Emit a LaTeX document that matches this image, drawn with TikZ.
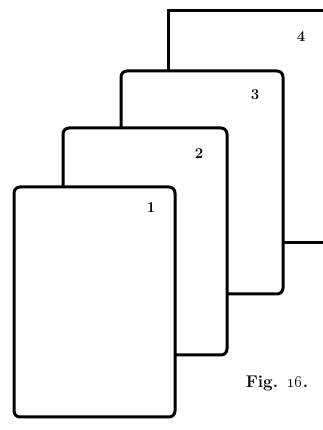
\documentclass[tikz,border=0pt]{standalone}
\begin{document}
\begin{tikzpicture}[x=1pt,y=1pt,
  card/.style={draw=black, fill=white, line width=3pt, rounded corners=6pt,
    inner sep=0pt, outer sep=0pt, anchor=north west},
  num/.style={font=\fontsize{15}{17}\selectfont\bfseries, inner sep=0pt}]
\useasboundingbox (0,0) rectangle (323,430);
\clip (0,0) rectangle (323,430);
\fill[white] (0,0) rectangle (323,430);
% card 4 (sharp top-left corner, runs off the right edge)
\node[card, rounded corners=0pt, minimum width=190pt, minimum height=232pt] (c4) at (168,419) {};
\node[card, minimum width=162pt, minimum height=223pt] (c3) at (121,359) {};
\node[card, minimum width=164pt, minimum height=227pt] (c2) at (63,302) {};
\node[card, minimum width=161pt, minimum height=230pt] (c1) at (14,243) {};
\node[num] (n4) at (301,393) {4};
\node[num] (n3) at (255,335) {3};
\node[num] (n2) at (199,276) {2};
\node[num] (n1) at (151,222) {1};
\node[font=\fontsize{17}{20}\selectfont\bfseries, inner sep=0pt] (fig) at (277,47) {Fig. \oldstylenums{16}.};
\end{tikzpicture}
\end{document}
